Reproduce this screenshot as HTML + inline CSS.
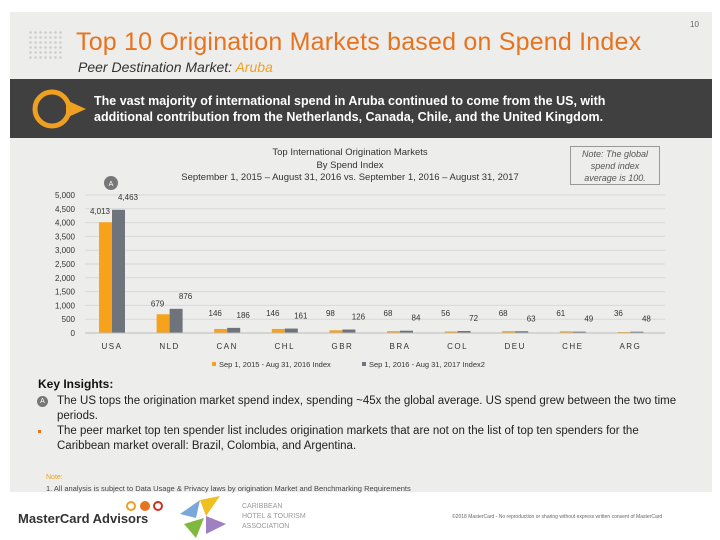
<!DOCTYPE html>
<html><head><meta charset="utf-8"><style>
body{margin:0;width:720px;height:540px;overflow:hidden;background:#fff;font-family:"Liberation Sans",sans-serif;position:relative}
.abs{position:absolute}
</style></head><body>
<div class="abs" style="left:10px;top:12px;width:702px;height:480px;background:#ededec"></div>
<div class="abs" style="left:690px;top:20px;font-size:8px;color:#666">10</div>
<div class="abs" style="left:28px;top:30px;width:36px;height:30px;background:radial-gradient(circle,#ccc 1px,transparent 1.5px) 0 0/5px 5px"></div>
<div class="abs" style="left:76px;top:28px;font-size:25px;letter-spacing:0.2px;color:#e8731e;white-space:nowrap">Top 10 Origination Markets based on Spend Index</div>
<div class="abs" style="left:78px;top:59px;font-size:14px;font-style:italic;color:#333">Peer Destination Market: <span style="color:#f0a020">Aruba</span></div>
<div class="abs" style="left:10px;top:79px;width:702px;height:59px;background:#404040"></div>
<svg class="abs" style="left:30px;top:86px" width="60" height="46"><circle cx="22" cy="23" r="17" fill="none" stroke="#f0a020" stroke-width="5"/><path d="M36 14 L56 23 L36 32Z" fill="#f0a020"/></svg>
<div class="abs" style="left:94px;top:93px;width:580px;font-size:12.5px;font-weight:bold;color:#fff;line-height:16px">The vast majority of international spend in Aruba continued to come from the US, with<br>additional contribution from the Netherlands, Canada, Chile, and the United Kingdom.</div>
<div class="abs" style="left:160px;top:147px;width:380px;text-align:center;font-size:9.5px;color:#333;line-height:12.5px">Top International Origination Markets<br>By Spend Index<br>September 1, 2015 – August 31, 2016 vs. September 1, 2016 – August 31, 2017</div>
<div class="abs" style="left:570px;top:146px;width:88px;height:36px;border:1px solid #999;font-size:9px;font-style:italic;color:#555;text-align:center;line-height:12px;padding-top:1px">Note: The global<br>spend index<br>average is 100.</div>
<svg class="abs" id="chart" style="left:0;top:0" width="720" height="380"></svg>
<div class="abs" style="left:38px;top:377px;font-size:12px;font-weight:bold;color:#111">Key Insights:</div>
<div class="abs" style="left:37px;top:396px;width:11px;height:11px;border-radius:50%;background:#777;color:#fff;font-size:7px;text-align:center;line-height:11px">A</div>
<div class="abs" style="left:57px;top:394px;width:650px;font-size:11.5px;color:#222;line-height:14.5px">The US tops the origination market spend index, spending ~45x the global average. US spend grew between the two time periods.</div>
<div class="abs" style="left:38px;top:430px;width:3px;height:3px;background:#e8731e"></div>
<div class="abs" style="left:57px;top:424px;width:620px;font-size:11.5px;color:#222;line-height:14.5px">The peer market top ten spender list includes origination markets that are not on the list of top ten spenders for the Caribbean market overall: Brazil, Colombia, and Argentina.</div>
<div class="abs" style="left:46px;top:474px;font-size:7px;color:#e8a020">Note:</div>
<div class="abs" style="left:46px;top:484px;font-size:7.5px;color:#444">1. All analysis is subject to Data Usage &amp; Privacy laws by origination Market and Benchmarking Requirements</div>
<div class="abs" style="left:18px;top:511px;font-size:13px;font-weight:bold;color:#333">MasterCard Advisors</div>
<svg class="abs" style="left:125px;top:500px" width="40" height="12"><circle cx="6" cy="6" r="4" fill="none" stroke="#f0a020" stroke-width="2"/><circle cx="20" cy="6" r="5" fill="#e8731e"/><circle cx="33" cy="6" r="4" fill="none" stroke="#d03020" stroke-width="2"/></svg>
<svg class="abs" style="left:176px;top:494px" width="54" height="46"><path d="M4 20 L24 6 L20 24Z" fill="#7aa8d8"/><path d="M24 6 L44 2 L30 22Z" fill="#f0c020"/><path d="M8 30 L28 24 L20 44Z" fill="#80b840"/><path d="M30 22 L50 30 L30 40Z" fill="#a080c0"/></svg>
<div class="abs" style="left:242px;top:502px;font-size:7px;color:#999;line-height:10px">CARIBBEAN<br>HOTEL &amp; TOURISM<br>ASSOCIATION</div>
<div class="abs" style="left:452px;top:514px;font-size:5px;color:#666">©2018 MasterCard - No reproduction or sharing without express written consent of MasterCard</div>
<script>
const categories=["USA","NLD","CAN","CHL","GBR","BRA","COL","DEU","CHE","ARG"];
const series2016=[4013,679,146,146,98,68,56,68,61,36];
const series2017=[4463,876,186,161,126,84,72,63,49,48];
const yTicks=[0,500,1000,1500,2000,2500,3000,3500,4000,4500,5000];
const svg=document.getElementById('chart');
const NS='http://www.w3.org/2000/svg';
const y=v=>333-v*138/5000;
const x=i=>112+i*57.6;
function mk(t,a,txt){const e=document.createElementNS(NS,t);for(const k in a)e.setAttribute(k,a[k]);if(txt!=null)e.textContent=txt;svg.appendChild(e);return e;}
yTicks.forEach(v=>{
 const g=mk('line',{x1:85,x2:665,y1:y(v),y2:y(v),stroke:'#d8d8d8','stroke-width':1});
 
 
 const t=mk('text',{x:75,y:y(v)+3,'font-size':8,fill:'#333','text-anchor':'end','font-family':'Liberation Sans'},v===0?'0':v.toLocaleString('en-US'));
 
 
});
categories.forEach((c,i)=>{
 const a=series2016[i],b=series2017[i];
 const r1=mk('rect',{x:x(i)-13,y:y(a),width:13,height:333-y(a),fill:'#f7a21b'});
 
 
 const r2=mk('rect',{x:x(i),y:y(b),width:13,height:333-y(b),fill:'#6e737c'});
 
 
 const l1=mk('text',{x:x(i)-12,y:Math.min(y(a)-8,316),'font-size':8,fill:'#333','text-anchor':'middle','font-family':'Liberation Sans'},a.toLocaleString('en-US'));
 
 
 const l2=mk('text',{x:x(i)+16,y:Math.min(y(b)-10,322),'font-size':8,fill:'#333','text-anchor':'middle','font-family':'Liberation Sans'},b.toLocaleString('en-US'));
 
 
 const cl=mk('text',{x:x(i),y:349,'font-size':8,fill:'#333','text-anchor':'middle','letter-spacing':1.5,'font-family':'Liberation Sans'},c);
 
 
});
const base=mk('line',{x1:85,x2:665,y1:333,y2:333,stroke:'#bbb'});


const ba=mk('circle',{cx:111,cy:183,r:7,fill:'#777'});


mk('text',{x:111,y:186,'font-size':7,fill:'#fff','text-anchor':'middle'},'A');
const lg1=mk('rect',{x:212,y:362,width:4,height:4,fill:'#f7a21b'});


const lt1=mk('text',{x:219,y:367,'font-size':7.5,fill:'#333','font-family':'Liberation Sans'},'Sep 1, 2015 - Aug 31, 2016 Index');


const lg2=mk('rect',{x:362,y:362,width:4,height:4,fill:'#6e737c'});


const lt2=mk('text',{x:369,y:367,'font-size':7.5,fill:'#333','font-family':'Liberation Sans'},'Sep 1, 2016 - Aug 31, 2017 Index2');


</script>
</body></html>
